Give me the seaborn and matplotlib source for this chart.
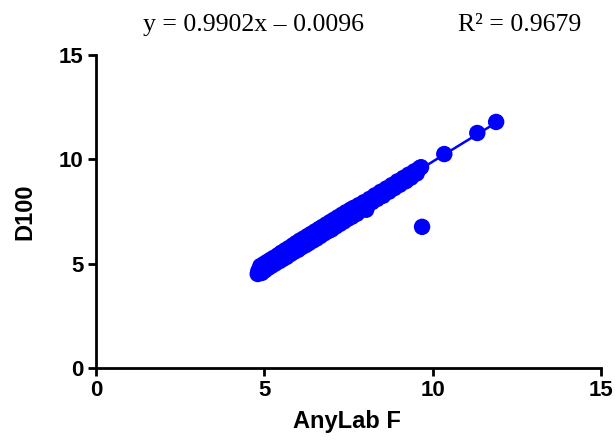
import numpy as np
import matplotlib.pyplot as plt
import seaborn as sns
sns.set_style('ticks')

# AnyLab F vs D100
anylab = [4.80, 4.82, 4.88, 4.92, 4.98, 5.02, 5.08, 5.12, 5.18, 5.22,
          5.28, 5.32, 5.40, 5.45, 5.50, 5.55, 5.62, 5.66, 5.72, 5.78,
          5.84, 5.88, 5.94, 6.00, 6.05, 6.10, 6.16, 6.22, 6.28, 6.32,
          6.38, 6.44, 6.50, 6.55, 6.62, 6.66, 6.72, 6.78, 6.84, 6.90,
          6.95, 7.00, 7.06, 7.12, 7.18, 7.24, 7.30, 7.36, 7.42, 7.48,
          7.55, 7.60, 7.65, 7.72, 7.75, 7.80, 7.88, 7.95, 8.02, 8.05,
          8.12, 8.20, 8.28, 8.35, 8.45, 8.52, 8.62, 8.70, 8.78, 8.86,
          8.95, 9.02, 9.12, 9.20, 9.28, 9.35, 9.45, 9.52, 9.60, 9.65,
          10.34, 11.32, 11.88, 9.68]
d100 = [4.50, 4.65, 4.88, 4.55, 4.98, 4.68, 5.08, 4.80, 5.18, 4.90,
        5.28, 5.00, 5.40, 5.12, 5.52, 5.22, 5.64, 5.32, 5.74, 5.46,
        5.87, 5.56, 5.98, 5.66, 6.10, 5.78, 6.20, 5.88, 6.32, 5.98,
        6.42, 6.10, 6.54, 6.20, 6.66, 6.32, 6.76, 6.45, 6.88, 6.56,
        6.99, 6.64, 7.10, 6.78, 7.22, 6.90, 7.34, 7.02, 7.46, 7.15,
        7.58, 7.25, 7.67, 7.38, 7.40, 7.80, 7.60, 7.94, 7.58, 7.75,
        8.10, 7.95, 8.27, 8.10, 8.44, 8.25, 8.60, 8.45, 8.76, 8.62,
        8.94, 8.78, 9.10, 8.95, 9.26, 9.12, 9.42, 9.32, 9.57, 9.62,
        10.25, 11.26, 11.79, 6.76]

pendiente = 0.9902
intercepto = -0.0096
r2 = 0.9679
ticks = [0, 5, 10, 15]

fig = plt.figure(figsize=(6.16, 4.4), dpi=100)
ax = fig.add_axes([0.156, 0.164, 0.82, 0.711])

sns.scatterplot(x=anylab, y=d100, color='#0000FF', s=140, edgecolor='none', ax=ax)
# recta de ajuste entre el minimo y maximo de x
xl = np.array([min(anylab), max(anylab)])
sns.lineplot(x=xl, y=pendiente*xl+intercepto, color='#0000FF', lw=1.8, ax=ax)

ax.set_xlim(0, 15)
ax.set_ylim(0, 15)
ax.set_xticks(ticks)
ax.set_yticks(ticks)
sns.despine(ax=ax)
for s in ['left', 'bottom']:
    ax.spines[s].set_linewidth(2)
    ax.spines[s].set_color('black')
ax.tick_params(direction='out', length=6, width=2, colors='black', pad=3)
for lab in ax.get_xticklabels() + ax.get_yticklabels():
    lab.set_fontfamily('Liberation Sans')
    lab.set_fontweight('bold')
    lab.set_fontsize(16)
    lab.set_color('black')
ax.set_xlabel('AnyLab F', fontfamily='Liberation Sans', fontweight='bold', fontsize=17, color='black')
ax.set_ylabel('D100', fontfamily='Liberation Sans', fontweight='bold', fontsize=17, color='black')
ax.xaxis.set_label_coords(0.496, -0.135)
ax.yaxis.set_label_coords(-0.118, 0.5)

fig.text(0.412, 0.943, 'y = %.4fx \u2013 %.4f' % (pendiente, -intercepto),
         family='Liberation Serif', fontsize=18.5, ha='center', va='center', color='black')
fig.text(0.844, 0.943, 'R\u00b2 = %.4f' % r2,
         family='Liberation Serif', fontsize=18.5, ha='center', va='center', color='black')

plt.savefig('out.png', dpi=100)
